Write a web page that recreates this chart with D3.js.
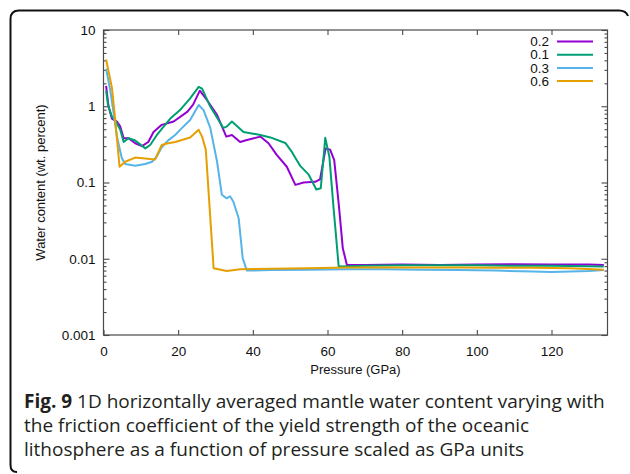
<!DOCTYPE html>
<html>
<head>
<meta charset="utf-8">
<script src="https://cdn.jsdelivr.net/npm/d3@7"></script>
<style>
  body { margin: 0; background: #fff; }
  svg { display: block; }
  .tick text { font-family: "Liberation Sans", Arial, sans-serif; font-size: 13.5px; fill: #111; }
</style>
</head>
<body>
<div id="chart"></div>
<script>
// DATA
let seriesNames = ['0.2', '0.1', '0.3', '0.6'];
let seriesColors = ['#9400d3', '#009e73', '#56b4e9', '#e69f00'];

let p02 = [0.7, 1.35, 2.25, 3.6, 4.5, 5.4, 6.7, 8.5, 10.3, 12, 13.4, 15.6, 18.8, 22.5, 24, 25.8, 27.7, 30.4, 32.9, 34.4, 36.6, 38.4, 42, 44.2, 46.4, 49.1, 51.4, 53.6, 56.7, 58, 59.5, 60.7, 61.8, 63, 64.1, 65.2, 70, 80, 90, 100, 110, 120, 130, 134];
let w02 = [1.85, 0.99, 0.69, 0.63, 0.54, 0.38, 0.38, 0.327, 0.30, 0.34, 0.46, 0.57, 0.63, 0.85, 1.05, 1.6, 1.21, 0.77, 0.40, 0.42, 0.34, 0.36, 0.40, 0.327, 0.23, 0.161, 0.093, 0.10, 0.102, 0.11, 0.28, 0.27, 0.197, 0.053, 0.0137, 0.0083, 0.0083, 0.0084, 0.0083, 0.0084, 0.0085, 0.0084, 0.0084, 0.0083];

let p01 = [0.7, 1.2, 2.25, 3.1, 4.5, 5.4, 6.7, 8.5, 11.2, 12.5, 14.3, 16.5, 17.9, 20.5, 23.2, 25.5, 26.4, 28.6, 32.1, 33, 34.4, 37.5, 42, 44.7, 48.7, 50.5, 52.7, 54.9, 57, 58.2, 59.4, 60.5, 61.6, 63, 70, 80, 90, 100, 110, 120, 130, 134];
let w01 = [1.6, 1.04, 0.73, 0.66, 0.49, 0.34, 0.38, 0.355, 0.28, 0.31, 0.42, 0.57, 0.69, 0.89, 1.27, 1.8, 1.7, 0.99, 0.52, 0.54, 0.63, 0.46, 0.42, 0.39, 0.33, 0.25, 0.165, 0.128, 0.081, 0.084, 0.385, 0.218, 0.048, 0.0079, 0.0081, 0.0082, 0.0082, 0.0082, 0.0081, 0.0081, 0.0080, 0.0079];

let p03 = [0.7, 1.8, 2.7, 3.6, 4.9, 5.8, 8.5, 11.2, 13, 14.3, 15.6, 17.4, 19.2, 20.5, 23.2, 25.5, 26.8, 28.6, 30.4, 31.7, 33, 33.9, 34.8, 36.2, 37.3, 38.4, 45, 55, 65, 75, 85, 95, 105, 115, 120, 125, 130, 134];
let w03 = [3.1, 1.63, 0.82, 0.40, 0.21, 0.175, 0.166, 0.175, 0.187, 0.22, 0.29, 0.36, 0.42, 0.49, 0.66, 1.04, 0.89, 0.52, 0.19, 0.069, 0.062, 0.066, 0.056, 0.034, 0.0101, 0.0070, 0.0071, 0.0072, 0.0073, 0.0073, 0.0072, 0.0071, 0.0070, 0.0068, 0.0067, 0.0068, 0.0069, 0.0071];

let p06 = [0.7, 2.25, 3.1, 4.3, 5.8, 8.5, 13.8, 15.6, 17, 19.2, 23.2, 25.5, 26.4, 27.4, 29.5, 33, 36.6, 45, 55, 65, 75, 85, 95, 105, 115, 125, 134];
let w06 = [4.1, 1.75, 0.7, 0.161, 0.187, 0.212, 0.20, 0.31, 0.325, 0.34, 0.39, 0.49, 0.40, 0.27, 0.0075, 0.0069, 0.0073, 0.0074, 0.0075, 0.0077, 0.0077, 0.0077, 0.0077, 0.0076, 0.0076, 0.0075, 0.0072];

let xTicks = [0, 20, 40, 60, 80, 100, 120];
let yTicks = [0.001, 0.01, 0.1, 1, 10];
let yTickLabels = ['0.001', '0.01', '0.1', '1', '10'];

let captionBold = 'Fig. 9';
let captionLines = [
    ' 1D horizontally averaged mantle water content varying with',
    'the friction coefficient of the yield strength of the oceanic',
    'lithosphere as a function of pressure scaled as GPa units'
];

// PLOTTING VARIABLES
let width = 630, height = 474;
let plot = {left: 103.5, right: 607.5, top: 30, bottom: 335};
let axisColor = '#4a4a4a';

let series = [
    {name: seriesNames[0], color: seriesColors[0], values: p02.map((p, i) => ({p: p, w: w02[i]}))},
    {name: seriesNames[1], color: seriesColors[1], values: p01.map((p, i) => ({p: p, w: w01[i]}))},
    {name: seriesNames[2], color: seriesColors[2], values: p03.map((p, i) => ({p: p, w: w03[i]}))},
    {name: seriesNames[3], color: seriesColors[3], values: p06.map((p, i) => ({p: p, w: w06[i]}))}
];

let svg = d3.select('#chart')
    .append('svg')
    .attr('width', width)
    .attr('height', height);

svg.append('rect').attr('width', width).attr('height', height).attr('fill', '#fff');

// rounded frame of the figure panel
svg.append('path')
    .attr('d', 'M 17 472 Q 10.5 472 10.5 465 L 10.5 19 Q 10.5 10.5 19 10.5 L 619 10.5 Q 626 10.5 628 16')
    .attr('fill', 'none')
    .attr('stroke', '#111')
    .attr('stroke-width', 2);

// Scales
let x = d3.scaleLinear().domain([0, 135]).range([plot.left, plot.right]);
let y = d3.scaleLog().domain([0.001, 10]).range([plot.bottom, plot.top]);

let minorY = [];
for (let e = -3; e < 1; e++) {
    for (let k = 2; k <= 9; k++) minorY.push(k * Math.pow(10, e));
}

// bottom axis with labels
svg.append('g')
    .attr('transform', `translate(0,${plot.bottom})`)
    .call(d3.axisBottom(x).tickValues(xTicks).tickSize(-5).tickPadding(11).tickFormat(d3.format('d')))
    .call(g => g.select('.domain').remove());

// top axis, ticks only
svg.append('g')
    .attr('transform', `translate(0,${plot.top})`)
    .call(d3.axisTop(x).tickValues(xTicks).tickSize(-5).tickFormat(''))
    .call(g => g.select('.domain').remove());

// left axis
svg.append('g')
    .attr('transform', `translate(${plot.left},0)`)
    .call(d3.axisLeft(y).tickValues(yTicks).tickSize(-6).tickPadding(8).tickFormat((d, i) => yTickLabels[i]))
    .call(g => g.select('.domain').remove());
svg.append('g')
    .attr('transform', `translate(${plot.left},0)`)
    .call(d3.axisLeft(y).tickValues(minorY).tickSize(-3).tickFormat(''))
    .call(g => g.select('.domain').remove());

// right axis
svg.append('g')
    .attr('transform', `translate(${plot.right},0)`)
    .call(d3.axisRight(y).tickValues(yTicks).tickSize(-6).tickFormat(''))
    .call(g => g.select('.domain').remove());
svg.append('g')
    .attr('transform', `translate(${plot.right},0)`)
    .call(d3.axisRight(y).tickValues(minorY).tickSize(-3).tickFormat(''))
    .call(g => g.select('.domain').remove());

svg.selectAll('.tick line').attr('stroke', axisColor).attr('stroke-width', 1.1);

// plot frame
svg.append('rect')
    .attr('x', plot.left)
    .attr('y', plot.top)
    .attr('width', plot.right - plot.left)
    .attr('height', plot.bottom - plot.top)
    .attr('fill', 'none')
    .attr('stroke', axisColor)
    .attr('stroke-width', 1.2);

// lines
let line = d3.line().x(d => x(d.p)).y(d => y(d.w));

svg.append('g')
    .selectAll('path')
    .data(series)
    .enter()
    .append('path')
    .attr('d', d => line(d.values))
    .attr('fill', 'none')
    .attr('stroke', d => d.color)
    .attr('stroke-width', 2)
    .attr('stroke-linejoin', 'round');

// legend
let legend = svg.append('g')
    .selectAll('g')
    .data(series)
    .enter()
    .append('g')
    .attr('transform', (d, i) => `translate(0,${41.5 + i * 13.2})`);

legend.append('text')
    .attr('x', 549)
    .attr('dy', '0.35em')
    .attr('text-anchor', 'end')
    .style('font-family', '"Liberation Sans", Arial, sans-serif')
    .style('font-size', '13.5px')
    .style('fill', '#111')
    .text(d => d.name);

legend.append('line')
    .attr('x1', 557)
    .attr('x2', 593)
    .attr('stroke', d => d.color)
    .attr('stroke-width', 2);

// axis titles
svg.append('text')
    .attr('x', (plot.left + plot.right) / 2)
    .attr('y', 374)
    .attr('text-anchor', 'middle')
    .style('font-family', '"Liberation Sans", Arial, sans-serif')
    .style('font-size', '13px')
    .style('fill', '#111')
    .text('Pressure (GPa)');

svg.append('text')
    .attr('transform', `translate(45,${(plot.top + plot.bottom) / 2}) rotate(-90)`)
    .attr('text-anchor', 'middle')
    .style('font-family', '"Liberation Sans", Arial, sans-serif')
    .style('font-size', '13px')
    .style('fill', '#111')
    .text('Water content (wt. percent)');

// caption
let caption = svg.append('text')
    .style('font-family', '"Open Sans", "Noto Sans", sans-serif')
    .style('font-size', '19px')
    .style('fill', '#231f20');

captionLines.forEach((t, i) => {
    let ts = caption.append('tspan')
        .attr('x', 24)
        .attr('y', 408 + i * 24);
    if (i === 0) {
        ts.append('tspan').style('font-weight', 'bold').text(captionBold);
        caption.append('tspan').text(t);
    } else {
        ts.text(t);
    }
});
</script>
</body>
</html>
